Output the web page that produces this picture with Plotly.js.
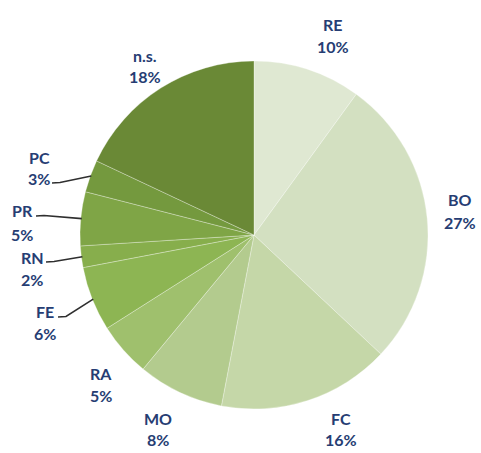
<!DOCTYPE html>
<html>
<head>
<meta charset="utf-8">
<script src="https://cdn.plot.ly/plotly-3.0.1.min.js"></script>
<style>html,body{margin:0;padding:0;background:#fff;}#chart{width:481px;height:453px;}</style>
</head>
<body>
<div id="chart"></div>
<script>
// ---- data ----
const categories = ["RE", "BO", "FC", "MO", "RA", "FE", "RN", "PR", "PC", "n.s."];
const shares = [10, 27, 16, 8, 5, 6, 2, 5, 3, 18];
const sliceColors = ["#dfe8d2", "#d3e0c1", "#c5d7a8", "#b3cb8e", "#9fc06d", "#8db553", "#87ae4c", "#7fa546", "#74993e", "#6a8936"];

// ---- layout geometry (pixels) ----
const W = 481, H = 453;
const cx = 254, cy = 235, R = 174;
const px = x => x / W;
const py = y => 1 - y / H;

// label anchor positions (name line centre, percent line centre)
const labelPos = {
  "RE":  [333, 25, 47],
  "BO":  [460, 199, 222],
  "FC":  [341, 418, 439],
  "MO":  [158, 418, 439],
  "RA":  [101, 373, 395],
  "FE":  [45, 311, 333],
  "RN":  [32, 257, 279],
  "PR":  [22, 211, 234],
  "PC":  [39, 157, 178],
  "n.s.":[145, 56, 77]
};
// leader line start points (near label)
const leaderStart = {
  "PC": [52, 183],
  "PR": [36, 216],
  "RN": [46, 262],
  "FE": [58, 317]
};

const font = {family: "Lato, 'Open Sans', sans-serif", size: 16, color: "#263d73", weight: 700};

const annotations = [];
categories.forEach((c, i) => {
  const p = labelPos[c];
  annotations.push({xref: "paper", yref: "paper", x: px(p[0]), y: py(p[1]), text: "<b>" + c + "</b>",
    showarrow: false, xanchor: "center", yanchor: "middle", font: font});
  annotations.push({xref: "paper", yref: "paper", x: px(p[0]), y: py(p[2]), text: "<b>" + shares[i] + "%</b>",
    showarrow: false, xanchor: "center", yanchor: "middle", font: font});
});

// leader lines: from label to the middle of the slice's arc (angle from data)
const total = shares.reduce((a, b) => a + b, 0);
const shapes = [];
let cum = 0;
categories.forEach((c, i) => {
  const mid = (cum + shares[i] / 2) / total * 2 * Math.PI;
  cum += shares[i];
  if (leaderStart[c]) {
    const ex = cx + R * Math.sin(mid), ey = cy - R * Math.cos(mid);
    const s = leaderStart[c];
    const path = "M " + px(s[0]) + " " + py(s[1]) + " L " + px(s[0] + 8) + " " + py(s[1] - 0.5) +
                 " L " + px(ex + 1) + " " + py(ey);
    shapes.push({type: "path", xref: "paper", yref: "paper", path: path,
      line: {color: "#2f2f2f", width: 1.6}});
  }
});

const trace = {
  type: "pie",
  labels: categories,
  values: shares,
  sort: false,
  direction: "clockwise",
  rotation: 0,
  textinfo: "none",
  hoverinfo: "label+percent",
  marker: {colors: sliceColors, line: {color: "rgba(255,255,255,0.5)", width: 0.6}},
  domain: {x: [px(cx - R), px(cx + R)], y: [py(cy + R), py(cy - R)]},
  showlegend: false
};

const layout = {
  width: W, height: H,
  margin: {l: 0, r: 0, t: 0, b: 0},
  paper_bgcolor: "#ffffff",
  showlegend: false,
  annotations: annotations,
  shapes: shapes
};

Plotly.newPlot("chart", [trace], layout, {displayModeBar: false, staticPlot: true});
</script>
</body>
</html>
